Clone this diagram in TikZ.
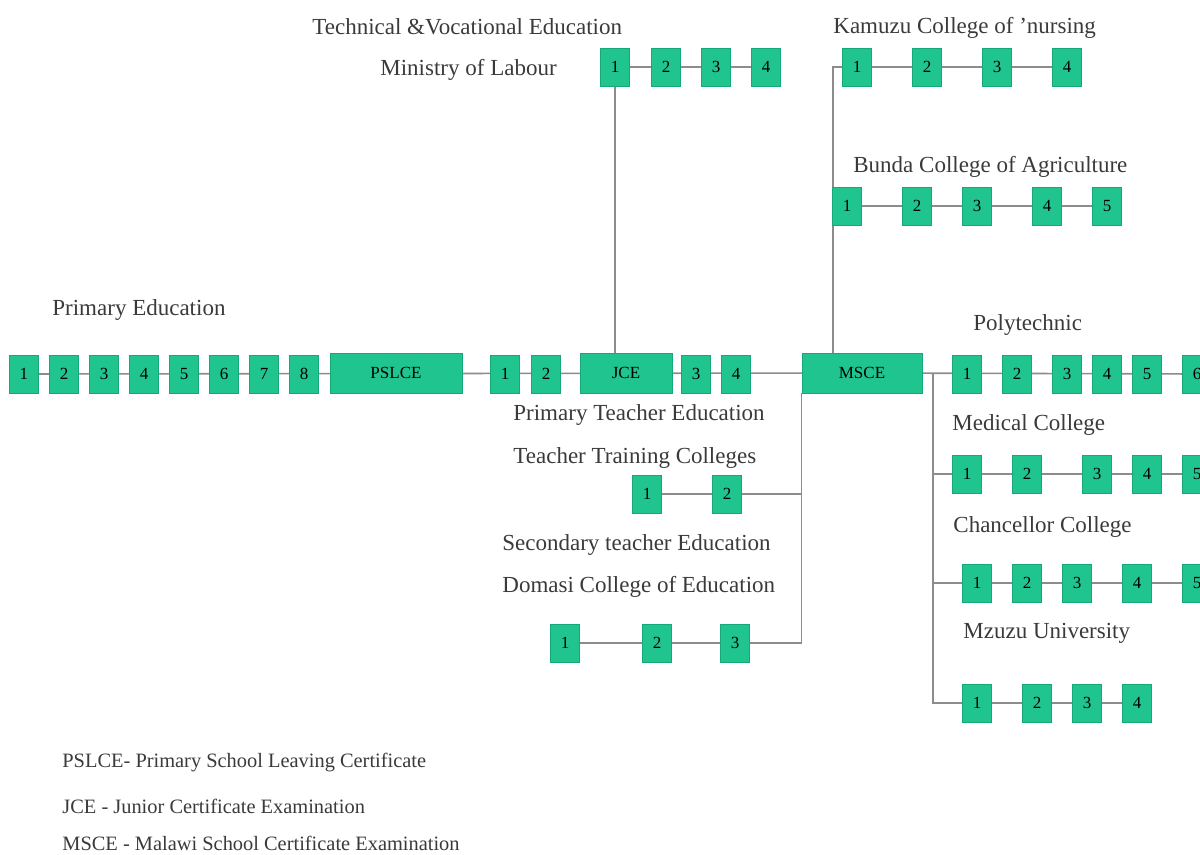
\documentclass[tikz,border=0pt]{standalone}
\usepackage{fontspec}
\setmainfont{Liberation Serif}
\usepackage{xcolor}
\usetikzlibrary{backgrounds}
\definecolor{yrgreen}{HTML}{1FC48E}
\definecolor{yredge}{HTML}{17A877}
\definecolor{linkgray}{HTML}{8C8C8C}
\definecolor{labelink}{HTML}{3A3A3A}

\begin{document}
\begin{tikzpicture}[
  x=0.5pt, y=-0.5pt,
  yr/.style={rectangle, fill=yrgreen, draw=yredge, inner sep=0pt, minimum width=14.5pt, minimum height=19pt, font=\fontsize{8.5}{9}\selectfont},
  exam/.style={yr, minimum height=20pt},
  lbl/.style={anchor=west, inner sep=0pt, text=labelink, font=\fontsize{11.5}{13}\selectfont},
  keylbl/.style={lbl, font=\fontsize{10.2}{12}\selectfont},
  link/.style={draw=linkgray, thick}
]
  \useasboundingbox (0,0) rectangle (1200,855);

  % main route
  \foreach \i/\x in {1/24,2/64,3/104,4/144,5/184,6/224,7/264,8/304}
    \node[yr] (p\i) at (\x,374) {\i};
  \node[exam, minimum width=66pt] (pslce) at (396,373) {PSLCE};
  \node[yr] (j1) at (505,374) {1};
  \node[yr] (j2) at (546,374) {2};
  \node[exam, minimum width=46pt] (jce) at (626,373) {JCE};
  \node[yr] (j3) at (696,374) {3};
  \node[yr] (j4) at (736,374) {4};
  \node[exam, minimum width=60pt] (msce) at (862,373) {MSCE};

  % technical and vocational
  \foreach \i/\x in {1/615,2/666,3/716,4/766}
    \node[yr] (ml\i) at (\x,67) {\i};
  % kamuzu and bunda
  \foreach \i/\x in {1/857,2/927,3/997,4/1067}
    \node[yr] (kc\i) at (\x,67) {\i};
  \foreach \i/\x in {1/847,2/917,3/977,4/1047,5/1107}
    \node[yr] (bc\i) at (\x,206) {\i};

  % university colleges
  \foreach \i/\x in {1/967,2/1017,3/1067,4/1107,5/1147,6/1197}
    \node[yr] (pt\i) at (\x,374) {\i};
  \foreach \i/\x in {1/967,2/1027,3/1097,4/1147,5/1197}
    \node[yr] (mc\i) at (\x,474) {\i};
  \foreach \i/\x in {1/977,2/1027,3/1077,4/1137,5/1197}
    \node[yr] (cc\i) at (\x,583) {\i};
  \foreach \i/\x in {1/977,2/1037,3/1087,4/1137}
    \node[yr] (mu\i) at (\x,703) {\i};

  % teacher education
  \node[yr] (tt1) at (647,494) {1};
  \node[yr] (tt2) at (727,494) {2};
  \node[yr] (dc1) at (565,643) {1};
  \node[yr] (dc2) at (657,643) {2};
  \node[yr] (dc3) at (735,643) {3};

  \coordinate (kdrop) at (833,353);
  \coordinate (tdrop) at (msce.south west);
  \coordinate (ujoin) at (933,374);

  \begin{scope}[on background layer]
    \draw[link] (p1.center) -- (msce.center) -- (pt6.center);
    \draw[link] (ml1.center) -- (ml4.center);
    \draw[link] (ml1.center) -- (ml1.center |- jce.north);
    \draw[link] (kc1.center) -- (kc4.center);
    \draw[link] (kc1.center) -| (kdrop);
    \draw[link] (bc1.center) -- (bc5.center);
    \draw[link] (mc1.center) -- (mc5.center);
    \draw[link] (cc1.center) -- (cc5.center);
    \draw[link] (mu1.center) -- (mu4.center);
    \draw[link] (ujoin) |- (mu1.center);
    \draw[link] (mc1) -- (mc1 -| ujoin);
    \draw[link] (cc1) -- (cc1 -| ujoin);
    \draw[link] (tt1.center) -- (tt2.center) -- (tt2 -| tdrop);
    \draw[link] (tdrop) |- (dc1.center);
  \end{scope}

  % labels
  \node[lbl] (tve) at (312,27) {Technical \&Vocational Education};
  \node[lbl] (mol) at (380,70) {Ministry of Labour};
  \node[lbl] (kcn) at (833,28) {Kamuzu College of 'nursing};
  \node[lbl] (bca) at (853,167) {Bunda College of Agriculture};
  \node[lbl] (pre) at (52,310) {Primary Education};
  \node[lbl] (pol) at (973,325) {Polytechnic};
  \node[lbl] (mcl) at (952,425) {Medical College};
  \node[lbl] (ccl) at (953,527) {Chancellor College};
  \node[lbl] (mzu) at (963,633) {Mzuzu University};
  \node[lbl] (pte) at (513,415) {Primary Teacher Education};
  \node[lbl] (ttc) at (513,458) {Teacher Training Colleges};
  \node[lbl] (ste) at (502,545) {Secondary teacher Education};
  \node[lbl] (dce) at (502,587) {Domasi College of Education};

  % key
  \node[keylbl] (k1) at (62,763) {PSLCE- Primary School Leaving Certificate};
  \node[keylbl] (k2) at (62,806) {JCE - Junior Certificate Examination};
  \node[keylbl] (k3) at (62,843) {MSCE - Malawi School Certificate Examination};
\end{tikzpicture}
\end{document}
